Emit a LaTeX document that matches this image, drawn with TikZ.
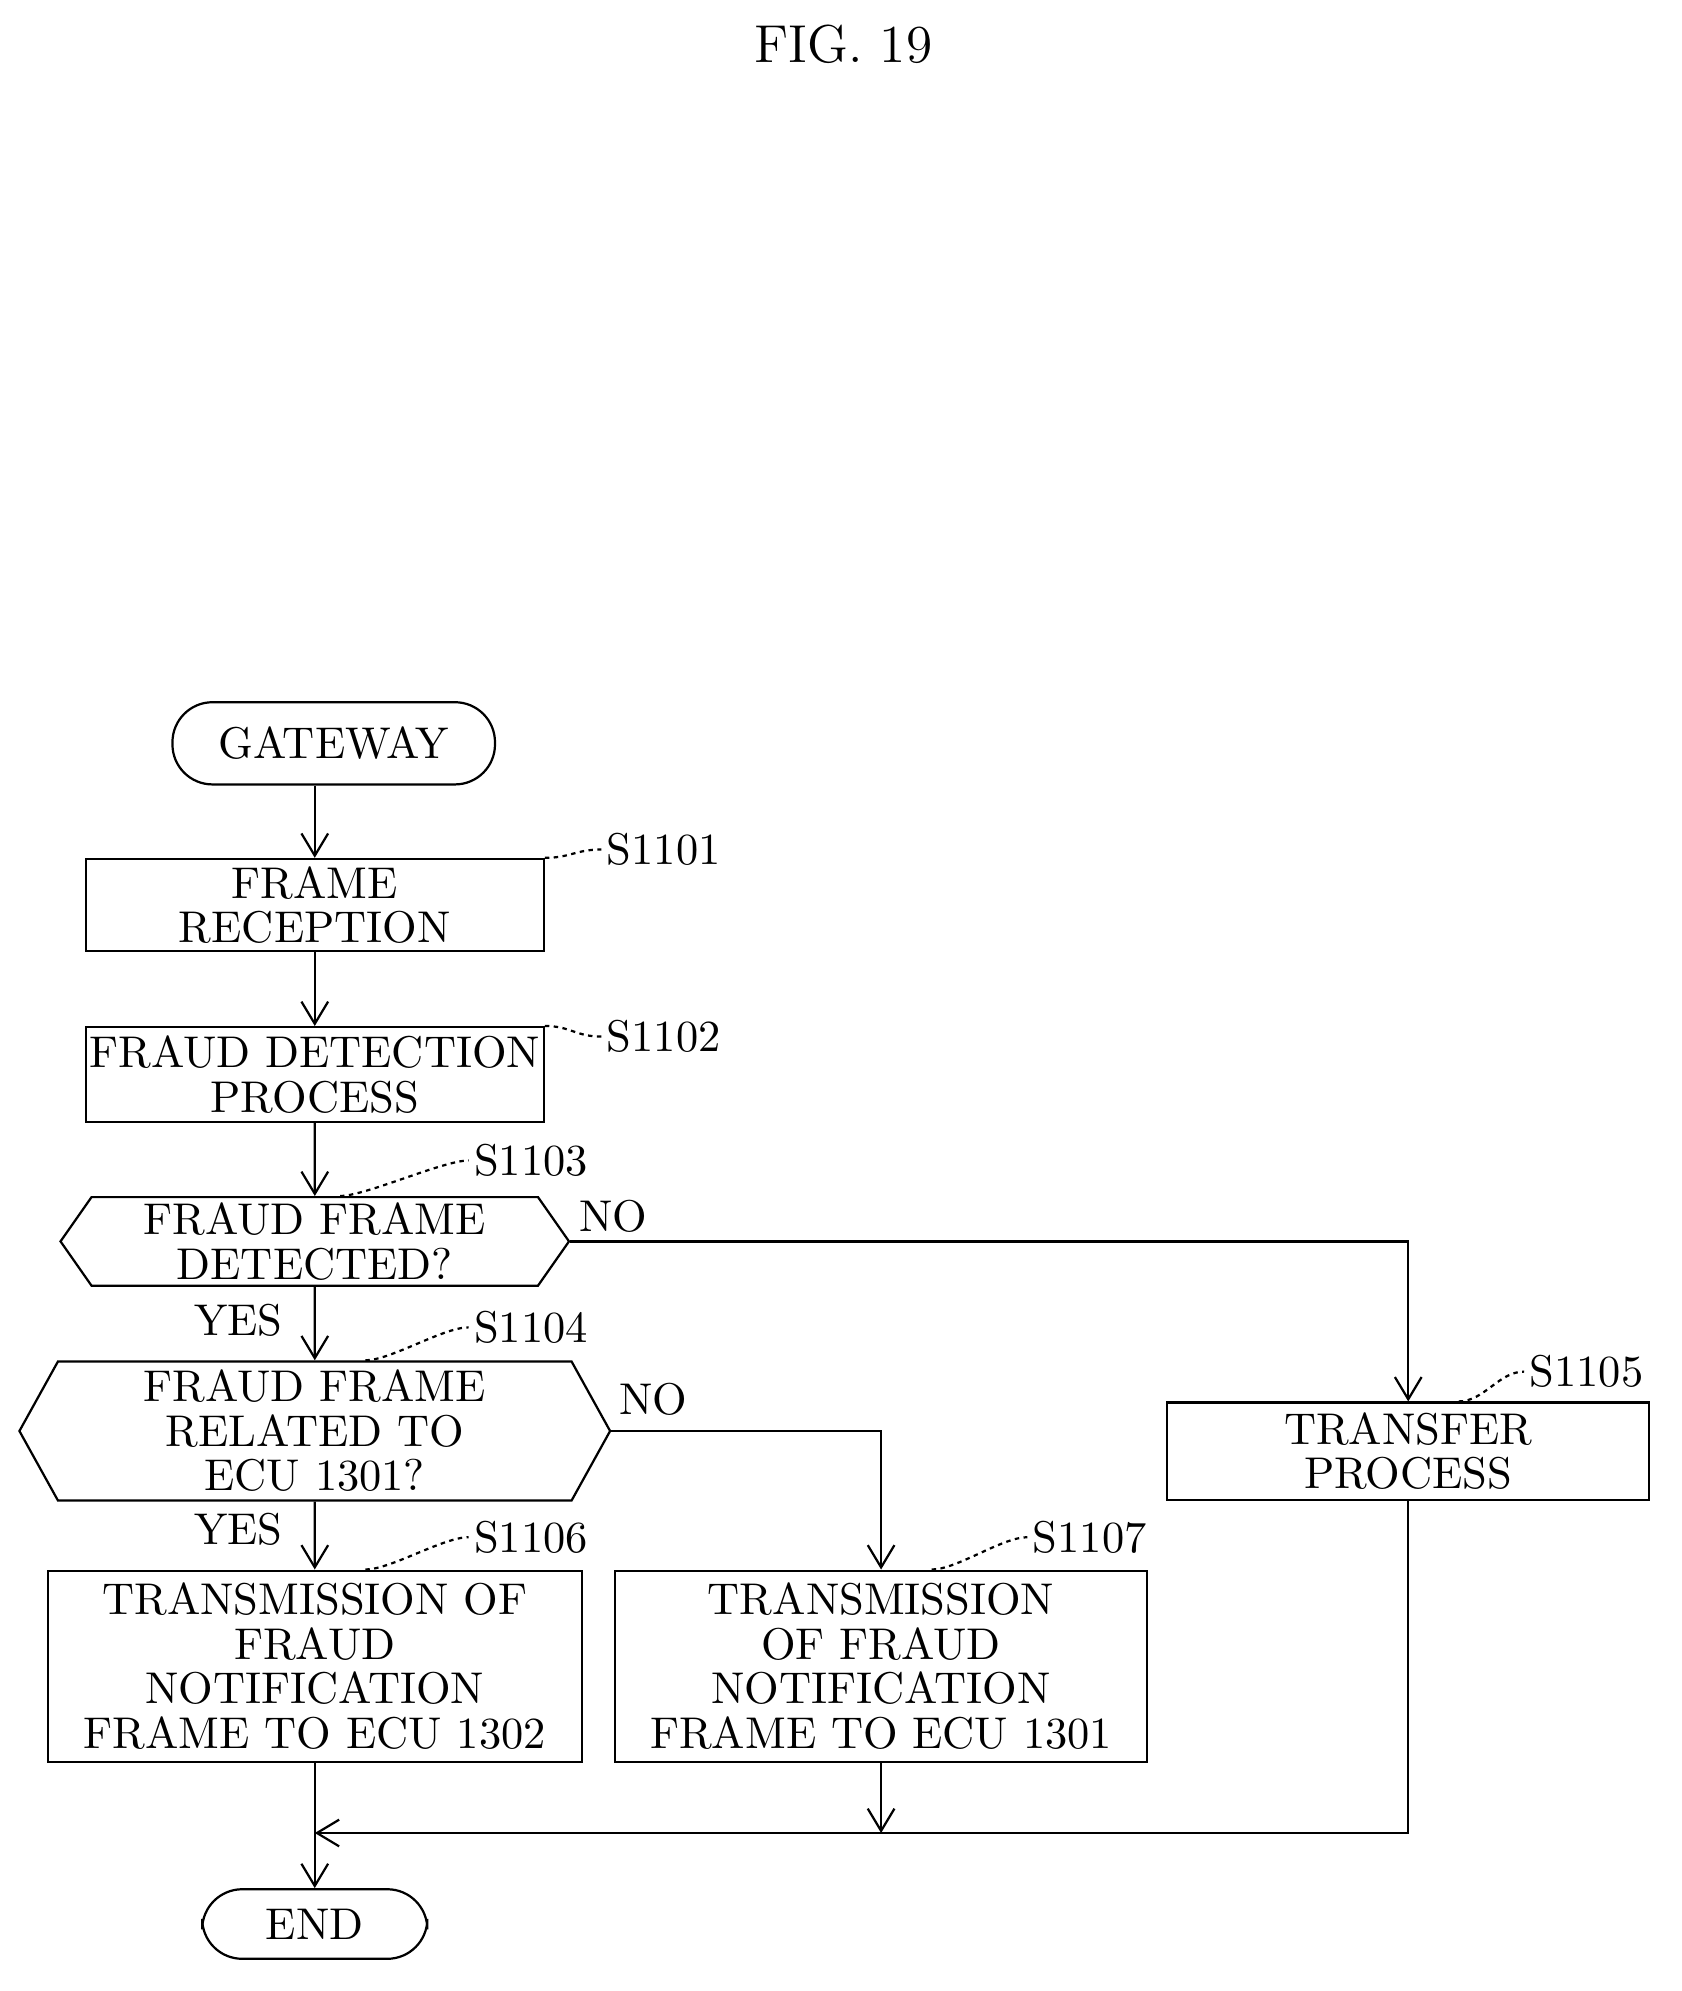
\documentclass[tikz,border=0pt]{standalone}
\usepackage{tikz}
\usetikzlibrary{arrows.meta,shapes.symbols}
\tikzset{
 proc/.style={rectangle,draw,inner sep=0pt,align=center,font=\fontsize{10}{10}\selectfont},
 term/.style={rectangle,rounded corners=9pt,draw,inner sep=0pt,font=\fontsize{10}{10}\selectfont},
 dec/.style={signal,signal to=west and east,draw,inner sep=0pt,align=center,font=\fontsize{10}{10}\selectfont},
 lbl/.style={font=\fontsize{10}{10}\selectfont,inner sep=1pt},
 flow/.style={-{Straight Barb[length=5pt,width=6pt]},line width=0.5pt},
 lead/.style={dashed,dash pattern=on 1pt off 1pt,line width=0.5pt}
}
\begin{document}
\begin{tikzpicture}[x=0.01cm,y=-0.01cm,line width=0.5pt]
 \useasboundingbox (0,0) rectangle (1330,1575);
 \node at (667,35) [lbl,font=\fontsize{12}{12}\selectfont] (fig) {FIG. 19};

 \node at (264,588) [term,minimum width=2.55cm,minimum height=0.65cm] (gw) {GATEWAY};
 \node at (249,716) [proc,minimum width=3.62cm,minimum height=0.73cm] (s1) {FRAME\\RECEPTION};
 \node at (249,850) [proc,minimum width=3.62cm,minimum height=0.75cm] (s2) {FRAUD DETECTION\\PROCESS};
 \node at (249,982) [dec,minimum width=4.02cm,minimum height=0.7cm,signal pointer angle=110] (s3) {FRAUD FRAME\\DETECTED?};
 \node at (249,1132) [dec,minimum width=4.67cm,minimum height=1.1cm,signal pointer angle=122] (s4) {FRAUD FRAME\\RELATED TO\\ECU 1301?};
 \node at (1114,1148) [proc,minimum width=3.81cm,minimum height=0.77cm] (s5) {TRANSFER\\PROCESS};
 \node at (249,1318) [proc,minimum width=4.22cm,minimum height=1.51cm] (s6) {TRANSMISSION OF\\FRAUD\\NOTIFICATION\\FRAME TO ECU 1302};
 \node at (697,1318) [proc,minimum width=4.21cm,minimum height=1.51cm] (s7) {TRANSMISSION\\OF FRAUD\\NOTIFICATION\\FRAME TO ECU 1301};
 \node at (249,1522) [term,minimum width=1.78cm,minimum height=0.55cm] (end) {END};

 % step labels
 \node at (525,672) [lbl] (l1) {S1101};
 \node at (525,820) [lbl] (l2) {S1102};
 \node at (420,918) [lbl] (l3) {S1103};
 \node at (420,1050) [lbl] (l4) {S1104};
 \node at (1255,1085) [lbl] (l5) {S1105};
 \node at (420,1216) [lbl] (l6) {S1106};
 \node at (862,1216) [lbl] (l7) {S1107};
 \draw[lead] (s1.north east) .. controls +(20,0) and +(-20,0) .. (l1.west);
 \draw[lead] (s2.north east) .. controls +(20,0) and +(-20,0) .. (l2.west);
 \draw[lead] (s3.north)++(20,0) .. controls +(20,0) and +(-20,0) .. (l3.west);
 \draw[lead] (s4.north)++(40,0) .. controls +(20,0) and +(-20,0) .. (l4.west);
 \draw[lead] (s5.north)++(40,0) .. controls +(20,0) and +(-20,0) .. (l5.west);
 \draw[lead] (s6.north)++(40,0) .. controls +(20,0) and +(-20,0) .. (l6.west);
 \draw[lead] (s7.north)++(40,0) .. controls +(20,0) and +(-20,0) .. (l7.west);

 \coordinate (m6) at (249,1450);
 \coordinate (m7) at (697,1450);

 \draw[flow] (gw.south -| s1.north) -- (s1);
 \draw[flow] (s1) -- (s2);
 \draw[flow] (s2) -- (s3);
 \draw[flow] (s3) -- (s4) node[pos=0.45,left=6pt,lbl] (y1) {YES};
 \draw[flow] (s4) -- (s6) node[pos=0.4,left=6pt,lbl] (y2) {YES};
 \draw[flow] (s3.east) -| (s5.north);
 \node at (485,962) [lbl] (n1) {NO};
 \draw[flow] (s4.east) -| (s7.north);
 \node at (517,1107) [lbl] (n2) {NO};
 \draw[flow] (s7.south) -- (m7);
 \draw[flow] (s5.south) |- (m6);
 \draw[flow] (s6.south) -- (end.north);
\end{tikzpicture}
\end{document}
